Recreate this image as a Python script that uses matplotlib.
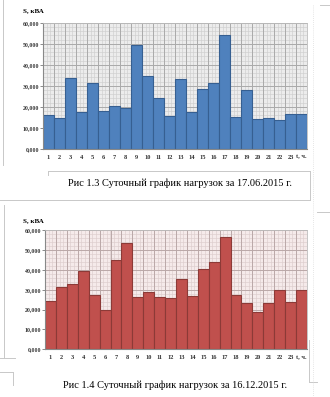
import numpy as np
import matplotlib.pyplot as plt
from matplotlib.lines import Line2D

hours = list(range(1, 25))
hour_labels = [str(h) for h in range(1, 24)] + ["t, ч."]
y_ticks = [0, 10000, 20000, 30000, 40000, 50000, 60000]
y_tick_labels = ["0,000", "10,000", "20,000", "30,000", "40,000", "50,000", "60,000"]

load_summer = [16000, 14700, 33500, 17400, 31500, 17900, 20400, 19300,
               49200, 34500, 24200, 15700, 33100, 17700, 28300, 31300,
               54100, 15200, 28000, 14200, 14700, 13900, 16600, 16600]
load_winter = [24300, 31200, 32800, 39600, 27500, 19800, 45100, 53300,
               26100, 29000, 26100, 25600, 35400, 26800, 40200, 43700,
               56600, 27300, 23500, 18900, 23500, 29700, 24000, 29700]

caption_summer = "Рис 1.3 Суточный график нагрузок за 17.06.2015 г."
caption_winter = "Рис 1.4 Суточный график нагрузок за 16.12.2015 г."

plt.rcParams["font.family"] = ["Liberation Serif", "DejaVu Serif"]

W, H = 330, 397
fig = plt.figure(figsize=(W / 100, H / 100), dpi=100)
fig.patch.set_facecolor("white")


def px_axes(x0, x1, y0, y1):
    return fig.add_axes([x0 / W, 1 - y1 / H, (x1 - x0) / W, (y1 - y0) / H])


def draw_chart(ax, values, face, edge, bg, grid_minor, grid_major):
    ax.set_facecolor(bg)
    ax.set_xlim(0.5, 24.5)
    ax.set_ylim(0, 60000)
    # minor grid: thirds of an hour, 2000 kVA steps
    for x in np.arange(0.5, 24.5, 1 / 3):
        ax.axvline(x, color=grid_minor, lw=0.45, zorder=0)
    for y in range(0, 60001, 2000):
        ax.axhline(y, color=grid_minor, lw=0.45, zorder=0)
    for x in np.arange(0.5, 24.6, 1):
        ax.axvline(x, color=grid_major, lw=0.7, zorder=0)
    for y in y_ticks:
        ax.axhline(y, color=grid_major, lw=0.7, zorder=0)
    ax.bar(hours, values, width=1.0, color=face, edgecolor=edge, lw=0.8, zorder=2)
    ax.set_yticks(y_ticks)
    ax.set_yticklabels(y_tick_labels, fontsize=4.2, fontweight="bold", color="#333333")
    ax.set_xticks(hours)
    ax.set_xticklabels(hour_labels, fontsize=4.6, fontweight="bold", color="#333333")
    ax.tick_params(axis="y", length=2, width=0.6, pad=0.5, color="#777777")
    ax.tick_params(axis="x", length=0, pad=4)
    for side in ["left", "bottom"]:
        ax.spines[side].set_color("#888888")
        ax.spines[side].set_linewidth(0.8)
    for side in ["top", "right"]:
        ax.spines[side].set_color("#bbbbbb")
        ax.spines[side].set_linewidth(0.6)


ax1 = px_axes(43, 307, 22.7, 149)
draw_chart(ax1, load_summer, "#4f81bd", "#365f91", "#ececec", "#cfcfcf", "#aaaaaa")
ax2 = px_axes(45, 307, 230, 349.3)
draw_chart(ax2, load_winter, "#c0504d", "#8c3a37", "#f5eaea", "#ddcccc", "#baa8a8")

fig.text(23 / W, 1 - 11 / H, "S, кВА", fontsize=5, fontweight="bold", va="center")
fig.text(23 / W, 1 - 221 / H, "S, кВА", fontsize=5, fontweight="bold", va="center")

fig.text(180 / W, 1 - 183 / H, caption_summer, fontsize=7.5, ha="center", va="center")
fig.text(175 / W, 1 - 385 / H, caption_winter, fontsize=7.5, ha="center", va="center")

# page frame remnants around the figures
frame = "#c8c8c8"
segs = [
    ((3, 3), (0, 165)),
    ((48, 310), (171, 171)),
    ((48, 48), (171, 175)),
    ((310, 310), (171, 200)),
    ((0, 310), (200, 200)),
    ((4, 4), (205, 358)),
    ((0, 15), (358, 358)),
    ((0, 13), (372, 372)),
    ((13, 13), (372, 385)),
    ((309, 309), (340, 382)),
    ((309, 317), (382, 382)),
    ((320, 330), (5, 5)),
    ((317, 330), (212, 212)),
]
for xs, ys in segs:
    fig.add_artist(Line2D([x / W for x in xs], [1 - y / H for y in ys],
                          color=frame, lw=0.7))
fig.add_artist(Line2D([313 / W, 313 / W], [1 - 5 / H, 1 - 397 / H],
                      color="#dddddd", lw=0.6, ls=(0, (1, 1.5))))

fig.savefig("out.png", dpi=100)
